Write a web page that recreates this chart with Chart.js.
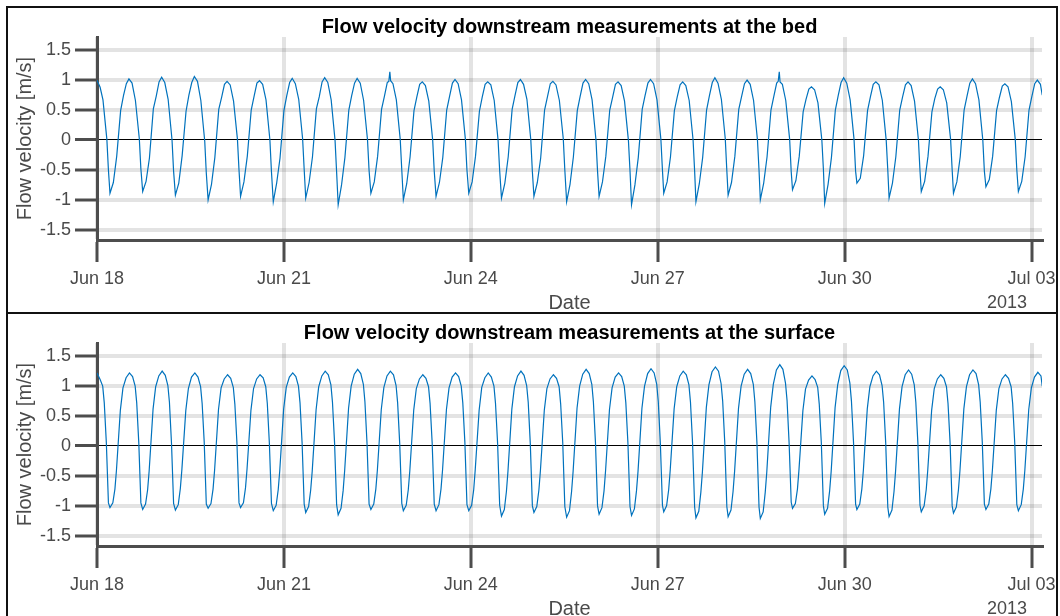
<!DOCTYPE html>
<html>
<head>
<meta charset="utf-8">
<title>Flow velocity downstream</title>
<script src="https://cdn.jsdelivr.net/npm/chart.js@4.4.1/dist/chart.umd.min.js"></script>
<style>
  html, body { margin: 0; padding: 0; background: #fff; }
  body { width: 1060px; height: 616px; overflow: hidden; position: relative; }
  .frame { position: absolute; left: 6px; top: 6px; width: 1048px; height: 700px; border: 2px solid #111; }
  .divider { position: absolute; left: 6px; top: 312px; width: 1052px; height: 2px; background: #111; }
  canvas { position: absolute; left: 0; }
  #bedChart { top: 0; }
  #surfaceChart { top: 306px; }
</style>
</head>
<body>
<div class="frame"></div>
<div class="divider"></div>
<canvas id="bedChart" width="1060" height="316"></canvas>
<canvas id="surfaceChart" width="1060" height="316"></canvas>
<script>
// hours since Jun 18 2013 00:00
const tickHours = [0, 72, 144, 216, 288, 360];
const tickLabels = ["Jun 18", "Jun 21", "Jun 24", "Jun 27", "Jun 30", "Jul 03"];
const velTicks = [-1.5, -1, -0.5, 0, 0.5, 1, 1.5];
const yearLabel = "2013";
const panelTitles = [
  "Flow velocity downstream measurements at the bed",
  "Flow velocity downstream measurements at the surface",
];

// bed sensor, one line per tidal cycle
const bedHours = [
  0.0, 1.2, 2.3, 3.8, 4.4,
  5.0, 6.3, 7.6, 9.1, 10.2, 11.3, 12.3, 13.5, 14.8, 16.3, 16.9,
  17.6, 18.9, 20.2, 21.7, 22.8, 23.9, 24.9, 26.1, 27.4, 28.9, 29.5,
  30.2, 31.5, 32.8, 34.3, 35.4, 36.5, 37.5, 38.7, 40.0, 41.5, 42.1,
  42.8, 44.1, 45.4, 46.9, 48.0, 49.1, 50.1, 51.3, 52.6, 54.1, 54.7,
  55.3, 56.6, 57.9, 59.4, 60.5, 61.6, 62.6, 63.8, 65.1, 66.6, 67.2,
  67.9, 69.2, 70.5, 72.0, 73.1, 74.2, 75.2, 76.4, 77.7, 79.2, 79.8,
  80.4, 81.7, 83.0, 84.5, 85.6, 86.7, 87.7, 88.9, 90.2, 91.7, 92.3,
  92.9, 94.2, 95.5, 97.0, 98.1, 99.2, 100.2, 101.4, 102.7, 104.2, 104.8,
  105.5, 106.8, 108.1, 109.6, 110.7, 111.8, 112.4, 112.8, 113.1, 114.0, 115.3, 116.8, 117.4,
  118.0, 119.3, 120.6, 122.1, 123.2, 124.3, 125.3, 126.5, 127.8, 129.3, 129.9,
  130.6, 131.9, 133.2, 134.7, 135.8, 136.9, 137.9, 139.1, 140.4, 141.9, 142.5,
  143.2, 144.5, 145.8, 147.3, 148.4, 149.5, 150.5, 151.7, 153.0, 154.5, 155.1,
  155.8, 157.1, 158.4, 159.9, 161.0, 162.1, 163.1, 164.3, 165.6, 167.1, 167.7,
  168.3, 169.6, 170.9, 172.4, 173.5, 174.6, 175.6, 176.8, 178.1, 179.6, 180.2,
  180.9, 182.2, 183.5, 185.0, 186.1, 187.2, 188.2, 189.4, 190.7, 192.2, 192.8,
  193.4, 194.7, 196.0, 197.5, 198.6, 199.7, 200.7, 201.9, 203.2, 204.7, 205.3,
  205.9, 207.2, 208.5, 210.0, 211.1, 212.2, 213.2, 214.4, 215.7, 217.2, 217.8,
  218.3, 219.6, 220.9, 222.4, 223.5, 224.6, 225.6, 226.8, 228.1, 229.6, 230.2,
  230.7, 232.0, 233.3, 234.8, 235.9, 237.0, 238.0, 239.2, 240.5, 242.0, 242.6,
  243.1, 244.4, 245.7, 247.2, 248.3, 249.4, 250.4, 251.6, 252.9, 254.4, 255.0,
  255.5, 256.8, 258.1, 259.6, 260.7, 261.8, 262.4, 262.8, 263.1, 264.0, 265.3, 266.8, 267.4,
  267.9, 269.2, 270.5, 272.0, 273.1, 274.2, 275.2, 276.4, 277.7, 279.2, 279.8,
  280.3, 281.6, 282.9, 284.4, 285.5, 286.6, 287.6, 288.8, 290.1, 291.6, 292.2,
  292.7, 294.0, 295.3, 296.8, 297.9, 299.0, 300.0, 301.2, 302.5, 304.0, 304.6,
  305.1, 306.4, 307.7, 309.2, 310.3, 311.4, 312.4, 313.6, 314.9, 316.4, 317.0,
  317.5, 318.8, 320.1, 321.6, 322.7, 323.8, 324.8, 326.0, 327.3, 328.8, 329.4,
  329.9, 331.2, 332.5, 334.0, 335.1, 336.2, 337.2, 338.4, 339.7, 341.2, 341.8,
  342.4, 343.7, 345.0, 346.5, 347.6, 348.7, 349.7, 350.9, 352.2, 353.7, 354.3,
  354.9, 356.2, 357.5, 359.0, 360.1, 361.2, 362.2, 363.4, 364.1,
];
const bedVel = [
  1.00, 0.88, 0.67, 0.01, -0.50,
  -0.89, -0.71, -0.27, 0.49, 0.74, 0.94, 1.02, 0.95, 0.66, 0.02, -0.48,
  -0.86, -0.69, -0.30, 0.52, 0.73, 0.97, 1.05, 0.96, 0.68, 0.00, -0.52,
  -0.92, -0.72, -0.26, 0.48, 0.75, 0.96, 1.06, 0.98, 0.66, -0.02, -0.55,
  -1.00, -0.74, -0.29, 0.51, 0.71, 0.93, 0.98, 0.92, 0.65, 0.01, -0.50,
  -0.94, -0.70, -0.27, 0.50, 0.73, 0.95, 0.99, 0.93, 0.67, 0.00, -0.53,
  -1.03, -0.72, -0.30, 0.49, 0.74, 0.96, 1.03, 0.94, 0.68, 0.02, -0.49,
  -0.97, -0.71, -0.28, 0.52, 0.72, 0.97, 1.04, 0.96, 0.67, -0.01, -0.54,
  -1.08, -0.75, -0.29, 0.50, 0.74, 0.95, 1.03, 0.95, 0.66, 0.00, -0.51,
  -0.89, -0.70, -0.27, 0.51, 0.73, 0.96, 0.98, 1.14, 0.99, 0.94, 0.67, 0.01, -0.50,
  -1.00, -0.73, -0.28, 0.49, 0.72, 0.93, 0.97, 0.91, 0.65, 0.00, -0.52,
  -0.94, -0.71, -0.29, 0.50, 0.73, 0.95, 1.01, 0.94, 0.67, 0.01, -0.50,
  -0.89, -0.70, -0.27, 0.48, 0.72, 0.93, 0.97, 0.92, 0.66, -0.01, -0.51,
  -0.97, -0.72, -0.28, 0.51, 0.74, 0.96, 1.01, 0.93, 0.68, 0.00, -0.53,
  -0.94, -0.71, -0.30, 0.50, 0.72, 0.94, 0.98, 0.92, 0.66, 0.02, -0.50,
  -1.03, -0.74, -0.28, 0.49, 0.73, 0.95, 1.01, 0.94, 0.67, 0.00, -0.52,
  -0.94, -0.70, -0.27, 0.50, 0.71, 0.93, 0.97, 0.91, 0.65, -0.01, -0.51,
  -1.08, -0.75, -0.29, 0.51, 0.74, 0.95, 1.01, 0.94, 0.67, 0.01, -0.50,
  -0.89, -0.70, -0.28, 0.49, 0.72, 0.92, 0.97, 0.91, 0.66, 0.00, -0.52,
  -1.03, -0.73, -0.29, 0.50, 0.74, 0.96, 1.04, 0.95, 0.68, 0.02, -0.51,
  -0.92, -0.71, -0.27, 0.51, 0.73, 0.94, 1.00, 0.93, 0.66, 0.00, -0.50,
  -1.00, -0.72, -0.28, 0.50, 0.73, 0.95, 0.98, 1.14, 0.97, 0.93, 0.66, 0.01, -0.53,
  -0.83, -0.68, -0.27, 0.47, 0.68, 0.85, 0.89, 0.84, 0.62, 0.00, -0.49,
  -1.06, -0.74, -0.29, 0.50, 0.74, 0.96, 1.04, 0.95, 0.67, 0.01, -0.52,
  -0.72, -0.64, -0.26, 0.49, 0.72, 0.93, 0.97, 0.92, 0.66, -0.01, -0.50,
  -0.97, -0.72, -0.28, 0.50, 0.72, 0.92, 0.97, 0.91, 0.65, 0.00, -0.51,
  -0.86, -0.69, -0.27, 0.47, 0.69, 0.85, 0.89, 0.84, 0.62, 0.01, -0.50,
  -0.89, -0.70, -0.28, 0.50, 0.73, 0.95, 1.02, 0.94, 0.67, 0.00, -0.52,
  -0.78, -0.66, -0.27, 0.49, 0.71, 0.90, 0.94, 0.89, 0.64, 0.01, -0.50,
  -0.86, -0.69, -0.28, 0.50, 0.73, 0.94, 1.00, 0.93, 0.75,
];

// surface sensor, one line per tidal cycle
const surfHours = [
  0.0, 1.2, 2.2, 2.8, 3.6, 4.4,
  5.0, 6.1, 6.9, 7.5, 9.0, 10.0, 11.2, 12.5, 13.7, 14.7, 15.3, 16.1, 16.9,
  17.6, 18.7, 19.5, 20.1, 21.6, 22.6, 23.8, 25.1, 26.3, 27.3, 27.9, 28.7, 29.5,
  30.2, 31.3, 32.1, 32.7, 34.2, 35.2, 36.4, 37.7, 38.9, 39.9, 40.5, 41.3, 42.1,
  42.8, 43.9, 44.7, 45.3, 46.8, 47.8, 49.0, 50.3, 51.5, 52.5, 53.1, 53.9, 54.7,
  55.3, 56.4, 57.2, 57.8, 59.3, 60.3, 61.5, 62.8, 64.0, 65.0, 65.6, 66.4, 67.2,
  67.9, 69.0, 69.8, 70.4, 71.9, 72.9, 74.1, 75.4, 76.6, 77.6, 78.2, 79.0, 79.8,
  80.4, 81.5, 82.3, 82.9, 84.4, 85.4, 86.6, 87.9, 89.1, 90.1, 90.7, 91.5, 92.3,
  92.9, 94.0, 94.8, 95.4, 96.9, 97.9, 99.1, 100.4, 101.6, 102.6, 103.2, 104.0, 104.8,
  105.5, 106.6, 107.4, 108.0, 109.5, 110.5, 111.7, 113.0, 114.2, 115.2, 115.8, 116.6, 117.4,
  118.0, 119.1, 119.9, 120.5, 122.0, 123.0, 124.2, 125.5, 126.7, 127.7, 128.3, 129.1, 129.9,
  130.6, 131.7, 132.5, 133.1, 134.6, 135.6, 136.8, 138.1, 139.3, 140.3, 140.9, 141.7, 142.5,
  143.2, 144.3, 145.1, 145.7, 147.2, 148.2, 149.4, 150.7, 151.9, 152.9, 153.5, 154.3, 155.1,
  155.8, 156.9, 157.7, 158.3, 159.8, 160.8, 162.0, 163.3, 164.5, 165.5, 166.1, 166.9, 167.7,
  168.3, 169.4, 170.2, 170.8, 172.3, 173.3, 174.5, 175.8, 177.0, 178.0, 178.6, 179.4, 180.2,
  180.9, 182.0, 182.8, 183.4, 184.9, 185.9, 187.1, 188.4, 189.6, 190.6, 191.2, 192.0, 192.8,
  193.4, 194.5, 195.3, 195.9, 197.4, 198.4, 199.6, 200.9, 202.1, 203.1, 203.7, 204.5, 205.3,
  205.9, 207.0, 207.8, 208.4, 209.9, 210.9, 212.1, 213.4, 214.6, 215.6, 216.2, 217.0, 217.8,
  218.3, 219.4, 220.2, 220.8, 222.3, 223.3, 224.5, 225.8, 227.0, 228.0, 228.6, 229.4, 230.2,
  230.7, 231.8, 232.6, 233.2, 234.7, 235.7, 236.9, 238.2, 239.4, 240.4, 241.0, 241.8, 242.6,
  243.1, 244.2, 245.0, 245.6, 247.1, 248.1, 249.3, 250.6, 251.8, 252.8, 253.4, 254.2, 255.0,
  255.5, 256.6, 257.4, 258.0, 259.5, 260.5, 261.7, 263.0, 264.2, 265.2, 265.8, 266.6, 267.4,
  267.9, 269.0, 269.8, 270.4, 271.9, 272.9, 274.1, 275.4, 276.6, 277.6, 278.2, 279.0, 279.8,
  280.3, 281.4, 282.2, 282.8, 284.3, 285.3, 286.5, 287.8, 289.0, 290.0, 290.6, 291.4, 292.2,
  292.7, 293.8, 294.6, 295.2, 296.7, 297.7, 298.9, 300.2, 301.4, 302.4, 303.0, 303.8, 304.6,
  305.1, 306.2, 307.0, 307.6, 309.1, 310.1, 311.3, 312.6, 313.8, 314.8, 315.4, 316.2, 317.0,
  317.5, 318.6, 319.4, 320.0, 321.5, 322.5, 323.7, 325.0, 326.2, 327.2, 327.8, 328.6, 329.4,
  329.9, 331.0, 331.8, 332.4, 333.9, 334.9, 336.1, 337.4, 338.6, 339.6, 340.2, 341.0, 341.8,
  342.4, 343.5, 344.3, 344.9, 346.4, 347.4, 348.6, 349.9, 351.1, 352.1, 352.7, 353.5, 354.3,
  354.9, 356.0, 356.8, 357.4, 358.9, 359.9, 361.1, 362.4, 363.6, 364.1,
];
const surfVel = [
  1.22, 1.11, 1.00, 0.72, 0.05, -0.95,
  -1.03, -0.95, -0.72, -0.40, 0.60, 0.97, 1.14, 1.22, 1.16, 1.00, 0.72, 0.05, -0.95,
  -1.06, -0.97, -0.73, -0.41, 0.62, 0.99, 1.17, 1.25, 1.18, 1.01, 0.73, 0.04, -0.96,
  -1.07, -0.98, -0.71, -0.39, 0.59, 0.96, 1.15, 1.22, 1.15, 0.99, 0.71, 0.06, -0.97,
  -1.04, -0.96, -0.72, -0.40, 0.61, 0.97, 1.12, 1.19, 1.13, 0.98, 0.70, 0.05, -0.95,
  -1.03, -0.95, -0.70, -0.38, 0.60, 0.96, 1.12, 1.19, 1.14, 0.99, 0.71, 0.04, -0.96,
  -1.08, -0.99, -0.73, -0.41, 0.62, 0.98, 1.15, 1.22, 1.16, 1.00, 0.72, 0.05, -0.97,
  -1.11, -1.01, -0.74, -0.42, 0.61, 0.99, 1.17, 1.25, 1.19, 1.02, 0.73, 0.06, -0.98,
  -1.15, -1.04, -0.75, -0.41, 0.63, 1.00, 1.20, 1.28, 1.21, 1.03, 0.74, 0.05, -0.97,
  -1.06, -0.97, -0.72, -0.40, 0.61, 0.98, 1.17, 1.25, 1.19, 1.01, 0.72, 0.04, -0.96,
  -1.08, -0.99, -0.73, -0.41, 0.60, 0.96, 1.12, 1.19, 1.13, 0.99, 0.71, 0.05, -0.97,
  -1.08, -0.98, -0.72, -0.40, 0.61, 0.97, 1.15, 1.22, 1.16, 1.00, 0.72, 0.06, -0.98,
  -1.08, -0.99, -0.73, -0.39, 0.60, 0.98, 1.14, 1.22, 1.15, 1.00, 0.71, 0.05, -0.99,
  -1.17, -1.06, -0.76, -0.42, 0.62, 0.99, 1.17, 1.25, 1.18, 1.01, 0.73, 0.04, -1.00,
  -1.11, -1.01, -0.74, -0.41, 0.60, 0.96, 1.12, 1.19, 1.13, 0.99, 0.70, 0.05, -1.01,
  -1.19, -1.08, -0.76, -0.42, 0.63, 1.00, 1.20, 1.28, 1.21, 1.03, 0.74, 0.06, -1.00,
  -1.14, -1.03, -0.75, -0.41, 0.61, 0.97, 1.15, 1.22, 1.16, 1.00, 0.72, 0.05, -1.01,
  -1.16, -1.05, -0.75, -0.42, 0.63, 1.00, 1.21, 1.29, 1.22, 1.03, 0.74, 0.04, -0.99,
  -1.10, -1.00, -0.73, -0.40, 0.62, 0.99, 1.17, 1.25, 1.19, 1.02, 0.73, 0.05, -1.02,
  -1.20, -1.09, -0.77, -0.43, 0.64, 1.02, 1.24, 1.32, 1.25, 1.04, 0.75, 0.06, -1.01,
  -1.18, -1.07, -0.76, -0.42, 0.63, 1.00, 1.20, 1.28, 1.21, 1.03, 0.74, 0.05, -1.02,
  -1.21, -1.10, -0.77, -0.43, 0.65, 1.03, 1.27, 1.36, 1.28, 1.05, 0.76, 0.04, -0.94,
  -1.04, -0.96, -0.72, -0.39, 0.59, 0.95, 1.10, 1.17, 1.11, 0.98, 0.70, 0.05, -1.00,
  -1.14, -1.04, -0.75, -0.42, 0.64, 1.02, 1.26, 1.34, 1.27, 1.05, 0.75, 0.06, -0.97,
  -1.06, -0.97, -0.72, -0.40, 0.62, 0.99, 1.17, 1.25, 1.19, 1.01, 0.73, 0.05, -1.02,
  -1.18, -1.07, -0.76, -0.42, 0.62, 0.99, 1.19, 1.27, 1.20, 1.02, 0.73, 0.04, -0.99,
  -1.10, -1.00, -0.73, -0.40, 0.60, 0.96, 1.12, 1.19, 1.13, 0.99, 0.71, 0.05, -1.00,
  -1.12, -1.02, -0.74, -0.41, 0.62, 0.99, 1.19, 1.27, 1.21, 1.02, 0.73, 0.06, -0.97,
  -1.06, -0.97, -0.72, -0.40, 0.60, 0.96, 1.12, 1.19, 1.13, 0.99, 0.71, 0.05, -0.98,
  -1.08, -0.98, -0.72, -0.40, 0.61, 0.97, 1.15, 1.23, 1.17, 1.00,
];

const fontFamily = "'Liberation Sans', Arial, Helvetica, sans-serif";
const axisGrey = "#4d4d4d";
const textGrey = "#4a4a4a";
const gridGrey = "rgba(0, 0, 0, 0.11)";

Chart.defaults.font.family = fontFamily;
Chart.defaults.color = textGrey;

// year under the last date tick
const yearMark = {
  id: "year_mark",
  afterDraw: (chart) => {
    const { ctx } = chart;
    const x = chart.scales.x;
    ctx.save();
    ctx.font = "18px " + fontFamily;
    ctx.fillStyle = textGrey;
    ctx.textAlign = "right";
    ctx.textBaseline = "middle";
    ctx.fillText(yearLabel, x.right - 15, x.bottom - 13);
    ctx.restore();
  },
};

function drawPanel(canvasId, titleText, hours, vel) {
  const points = hours.map((h, i) => ({ x: h, y: vel[i] }));
  return new Chart(document.getElementById(canvasId), {
    type: "line",
    data: {
      datasets: [
        {
          data: points,
          borderColor: "#0072BD",
          borderWidth: 1.2,
          pointRadius: 0,
          tension: 0,
          fill: false,
        },
      ],
    },
    plugins: [yearMark],
    options: {
      responsive: false,
      animation: false,
      events: [],
      layout: { padding: { left: 0, right: 18, top: 0, bottom: 0 } },
      plugins: {
        legend: { display: false },
        tooltip: { enabled: false },
        title: {
          display: true,
          text: titleText,
          fullSize: false,
          color: "#000",
          font: { size: 20, weight: "bold", lineHeight: 1 },
          padding: { top: 17, bottom: 0 },
        },
      },
      scales: {
        x: {
          type: "linear",
          min: 0,
          max: 364,
          afterBuildTicks: (scale) => {
            scale.ticks = tickHours.map((v) => ({ value: v }));
          },
          afterFit: (scale) => {
            scale.height = 76;
            scale.paddingLeft = 0;
            scale.paddingRight = 0;
          },
          ticks: {
            callback: (v) => tickLabels[tickHours.indexOf(v)],
            font: { size: 18 },
            padding: 6,
            maxRotation: 0,
            autoSkip: false,
          },
          grid: {
            color: gridGrey,
            lineWidth: 4,
            tickLength: 22,
            tickWidth: 3,
            tickColor: axisGrey,
          },
          border: { display: true, color: axisGrey, width: 3 },
          title: {
            display: true,
            text: "Date",
            font: { size: 20, lineHeight: 1 },
            padding: { top: 0, bottom: 3 },
          },
        },
        y: {
          min: -1.67,
          max: 1.72,
          afterBuildTicks: (scale) => {
            scale.ticks = velTicks.map((v) => ({ value: v }));
          },
          afterFit: (scale) => {
            scale.width = 97;
            scale.paddingTop = 0;
            scale.paddingBottom = 0;
          },
          ticks: {
            callback: (v) => String(v),
            font: { size: 18 },
            padding: 4,
          },
          grid: {
            // the zero line is thin and black, the rest light grey
            color: (c) => (c.tick && c.tick.value === 0 ? "#000" : gridGrey),
            lineWidth: (c) => (c.tick && c.tick.value === 0 ? 1 : 4),
            tickLength: 22,
            tickWidth: 3,
            tickColor: axisGrey,
          },
          border: { display: true, color: axisGrey, width: 3 },
          title: {
            display: true,
            text: "Flow velocity [m/s]",
            font: { size: 20, lineHeight: 1 },
            padding: { top: 15, bottom: 0 },
          },
        },
      },
    },
  });
}

const bedChart = drawPanel("bedChart", panelTitles[0], bedHours, bedVel);
const surfaceChart = drawPanel("surfaceChart", panelTitles[1], surfHours, surfVel);
</script>
</body>
</html>
